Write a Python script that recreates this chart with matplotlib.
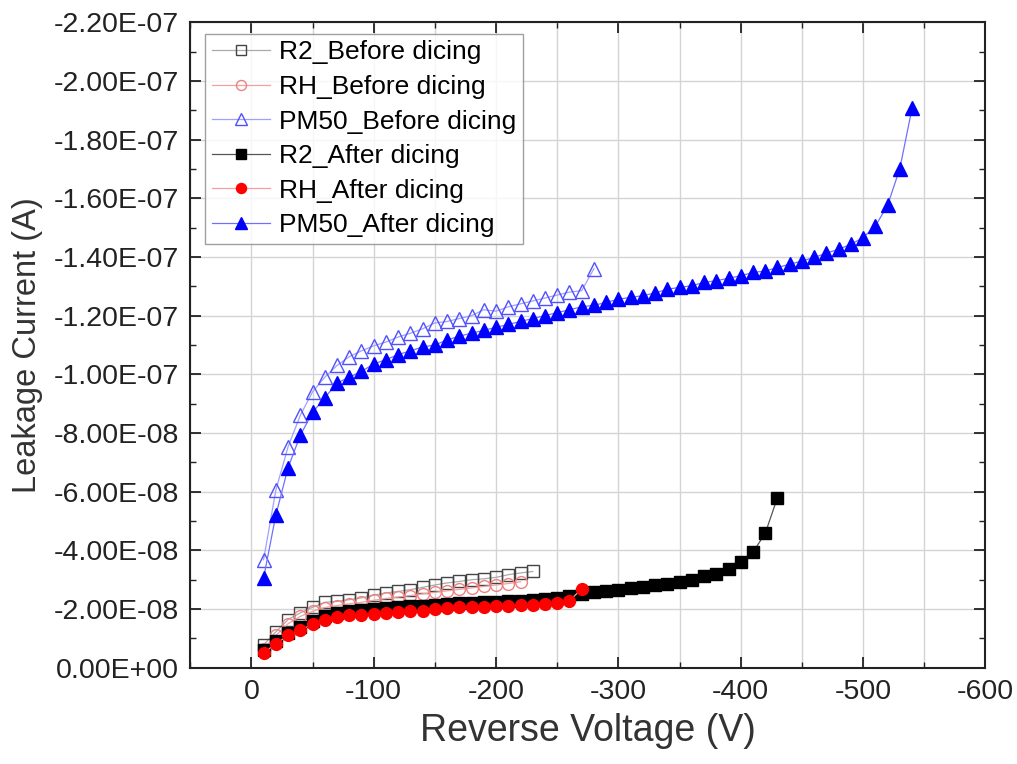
import numpy as np
import matplotlib.pyplot as plt
from matplotlib.ticker import MultipleLocator, FuncFormatter

plt.rcParams['font.family'] = ['Liberation Sans', 'DejaVu Sans']
plt.rcParams['axes.unicode_minus'] = False

# reverse voltage (V)
v_r2_before = [-10, -20, -30, -40, -50, -60, -70, -80, -90, -100, -110, -120, -130, -140, -150,
               -160, -170, -180, -190, -200, -210, -220, -230]
v_rh_before = [-10, -20, -30, -40, -50, -60, -70, -80, -90, -100, -110, -120, -130, -140, -150,
               -160, -170, -180, -190, -200, -210, -220]
v_pm_before = [-10, -20, -30, -40, -50, -60, -70, -80, -90, -100, -110, -120, -130, -140, -150,
               -160, -170, -180, -190, -200, -210, -220, -230, -240, -250, -260, -270, -280]
v_r2_after = [-10, -20, -30, -40, -50, -60, -70, -80, -90, -100, -110, -120, -130, -140, -150,
              -160, -170, -180, -190, -200, -210, -220, -230, -240, -250, -260, -270, -280, -290,
              -300, -310, -320, -330, -340, -350, -360, -370, -380, -390, -400, -410, -420, -430]
v_rh_after = [-10, -20, -30, -40, -50, -60, -70, -80, -90, -100, -110, -120, -130, -140, -150,
              -160, -170, -180, -190, -200, -210, -220, -230, -240, -250, -260, -270]
v_pm_after = [-10, -20, -30, -40, -50, -60, -70, -80, -90, -100, -110, -120, -130, -140, -150,
              -160, -170, -180, -190, -200, -210, -220, -230, -240, -250, -260, -270, -280, -290,
              -300, -310, -320, -330, -340, -350, -360, -370, -380, -390, -400, -410, -420, -430,
              -440, -450, -460, -470, -480, -490, -500, -510, -520, -530, -540]

# leakage current, in units of 1e-8 A (negative)
i_r2_before = [0.78, 1.22, 1.64, 1.87, 2.06, 2.23, 2.26, 2.32, 2.38, 2.47, 2.55, 2.60, 2.66, 2.74, 2.82,
               2.89, 2.94, 3.00, 3.03, 3.08, 3.17, 3.23, 3.28]
i_rh_before = [0.65, 1.10, 1.50, 1.75, 1.92, 2.05, 2.12, 2.18, 2.23, 2.30, 2.36, 2.41, 2.46, 2.52, 2.57,
               2.62, 2.67, 2.72, 2.77, 2.82, 2.87, 2.93]
i_pm_before = [3.68, 6.05, 7.53, 8.60, 9.40, 9.90, 10.30, 10.60, 10.80, 10.97, 11.10, 11.27, 11.40, 11.55,
               11.75, 11.80, 11.90, 12.00, 12.20, 12.15, 12.30, 12.40, 12.50, 12.60, 12.70, 12.80, 12.85,
               13.60]
i_r2_after = [0.62, 0.92, 1.20, 1.40, 1.60, 1.75, 1.85, 1.92, 1.97, 2.00, 2.03, 2.06, 2.09, 2.12, 2.15,
              2.17, 2.19, 2.21, 2.23, 2.25, 2.27, 2.29, 2.31, 2.34, 2.38, 2.45, 2.52, 2.57, 2.60,
              2.66, 2.72, 2.75, 2.81, 2.85, 2.91, 3.00, 3.12, 3.19, 3.37, 3.59, 3.94, 4.58, 5.80]
i_rh_after = [0.51, 0.81, 1.10, 1.27, 1.49, 1.64, 1.72, 1.79, 1.81, 1.83, 1.87, 1.90, 1.93, 1.95, 2.00,
              2.04, 2.06, 2.07, 2.07, 2.09, 2.12, 2.13, 2.15, 2.17, 2.21, 2.29, 2.68]
i_pm_after = [3.06, 5.20, 6.82, 7.92, 8.70, 9.20, 9.70, 9.90, 10.10, 10.35, 10.50, 10.67, 10.80, 10.93,
              11.00, 11.17, 11.30, 11.40, 11.50, 11.60, 11.70, 11.80, 11.90, 12.00, 12.10, 12.20, 12.30,
              12.35, 12.45, 12.56, 12.62, 12.68, 12.77, 12.90, 12.96, 13.02, 13.13, 13.19, 13.27, 13.36,
              13.47, 13.52, 13.64, 13.75, 13.86, 13.98, 14.13, 14.26, 14.43, 14.66, 15.05, 15.76, 17.01,
              19.07]

series = [
    ('R2_Before dicing', v_r2_before, i_r2_before, 's', '#aaaaaa', 'none', '#444444', 8),
    ('RH_Before dicing', v_rh_before, i_rh_before, 'o', '#f4a0a0', 'none', '#f08080', 8.5),
    ('PM50_Before dicing', v_pm_before, i_pm_before, '^', '#a0a0ff', 'none', '#5050ff', 10.5),
    ('R2_After dicing', v_r2_after, i_r2_after, 's', '#555555', 'black', 'black', 8),
    ('RH_After dicing', v_rh_after, i_rh_after, 'o', '#f4a0a0', 'red', 'red', 8.5),
    ('PM50_After dicing', v_pm_after, i_pm_after, '^', '#7070ff', 'blue', 'blue', 10.5),
]

fig = plt.figure(figsize=(10.17, 7.64), dpi=100)
ax = fig.add_axes([0.187, 0.126, 0.782, 0.845])

for name, v, cur, mk, lc, fc, ec, ms in series:
    ax.plot(v, -np.array(cur) * 1e-8, marker=mk, color=lc, lw=0.9, ms=ms,
            mfc=fc, mec=ec, mew=1.0, label=name, zorder=3)

ax.set_xlim(50, -600)
ax.set_ylim(0, -2.2e-7)
ax.xaxis.set_major_locator(MultipleLocator(100))
ax.xaxis.set_minor_locator(MultipleLocator(50))
ax.yaxis.set_major_locator(MultipleLocator(2e-8))
ax.yaxis.set_minor_locator(MultipleLocator(1e-8))
ax.yaxis.set_major_formatter(FuncFormatter(lambda y, p: '%.2E' % (0.0 if abs(y) < 1e-12 else y)))
ax.xaxis.set_major_formatter(FuncFormatter(lambda x, p: '%d' % round(x)))

ax.grid(True, which='major', axis='y', color='#d4d4d4', lw=1.0)
ax.grid(True, which='both', axis='x', color='#d4d4d4', lw=1.0)
ax.set_axisbelow(True)

ax.tick_params(which='both', direction='in', top=True, right=True, labelsize=20.5, colors='#222222')
ax.tick_params(which='major', length=8, width=1.3, pad=8)
ax.tick_params(which='minor', length=4, width=1.0)
for sp in ax.spines.values():
    sp.set_linewidth(1.5)
    sp.set_color('#222222')

ax.set_xlabel('Reverse Voltage (V)', fontsize=27, color='#333333', labelpad=6)
ax.set_ylabel('Leakage Current (A)', fontsize=23.5, color='#333333', labelpad=8)

leg = ax.legend(loc='upper left', bbox_to_anchor=(0.012, 0.99), fontsize=19, frameon=True,
                fancybox=False, edgecolor='#888888', borderpad=0.25, labelspacing=0.4,
                handlelength=2.2, handletextpad=0.35, borderaxespad=0.2, markerscale=0.85)
leg.get_frame().set_linewidth(1.0)

fig.savefig('out.png', dpi=100)
